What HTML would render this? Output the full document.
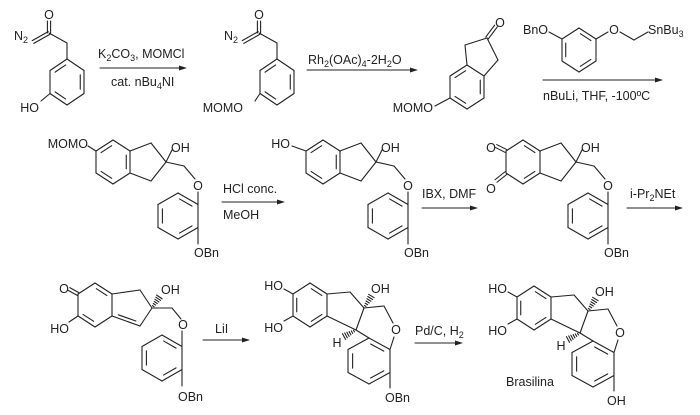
<!DOCTYPE html>
<html><head><meta charset="utf-8"><style>
html,body{margin:0;padding:0;background:#fff}
svg{display:block}
text{font-family:"Liberation Sans",Arial,sans-serif;font-size:12.5px;fill:#222}
</style></head><body>
<svg id="s" width="700" height="415" viewBox="0 0 700 415" xmlns="http://www.w3.org/2000/svg">
<rect width="700" height="415" fill="#fff"/>
<g id="g" stroke="#222" stroke-width="1.1" fill="none" stroke-linecap="round"></g>
<g id="t">
<text x="14" y="40">N<tspan dy="3" font-size="9">2</tspan></text>
<text x="49" y="19" text-anchor="middle">O</text>
<text x="39" y="112" text-anchor="end">HO</text>
<text x="98" y="58">K<tspan dy="3" font-size="9">2</tspan><tspan dy="-3">CO</tspan><tspan dy="3" font-size="9">3</tspan><tspan dy="-3">, MOMCl</tspan></text>
<text x="111" y="86">cat. nBu<tspan dy="3" font-size="9">4</tspan><tspan dy="-3">NI</tspan></text>
<text x="224" y="40">N<tspan dy="3" font-size="9">2</tspan></text>
<text x="259" y="19" text-anchor="middle">O</text>
<text x="243" y="112" text-anchor="end">MOMO</text>
<text x="308" y="64">Rh<tspan dy="3" font-size="9">2</tspan><tspan dy="-3">(OAc)</tspan><tspan dy="3" font-size="9">4</tspan><tspan dy="-3">-2H</tspan><tspan dy="3" font-size="9">2</tspan><tspan dy="-3">O</tspan></text>
<text x="500" y="27" text-anchor="middle">O</text>
<text x="433" y="112" text-anchor="end">MOMO</text>
<text x="523" y="34">BnO</text>
<text x="614" y="34" text-anchor="middle">O</text>
<text x="648" y="34">SnBu<tspan dy="3" font-size="9">3</tspan></text>
<text x="543" y="100">nBuLi, THF, -100ºC</text>
<text x="88" y="148" text-anchor="end">MOMO</text>
<text x="171" y="152">OH</text>
<text x="198" y="190" text-anchor="middle">O</text>
<text x="194" y="257">OBn</text>
<text x="223" y="193">HCl conc.</text>
<text x="223" y="219">MeOH</text>
<text x="290" y="148" text-anchor="end">HO</text>
<text x="381" y="152">OH</text>
<text x="408" y="190" text-anchor="middle">O</text>
<text x="404" y="257">OBn</text>
<text x="422" y="198">IBX, DMF</text>
<text x="491" y="152" text-anchor="middle">O</text>
<text x="491" y="193" text-anchor="middle">O</text>
<text x="581" y="152">OH</text>
<text x="608" y="190" text-anchor="middle">O</text>
<text x="604" y="257">OBn</text>
<text x="630" y="198">i-Pr<tspan dy="3" font-size="9">2</tspan><tspan dy="-3">NEt</tspan></text>
<text x="64" y="293" text-anchor="middle">O</text>
<text x="69" y="333" text-anchor="end">HO</text>
<text x="161" y="294">OH</text>
<text x="183" y="329" text-anchor="middle">O</text>
<text x="178" y="401">OBn</text>
<text x="215" y="333">LiI</text>
<text x="283" y="290" text-anchor="end">HO</text>
<text x="283" y="332" text-anchor="end">HO</text>
<text x="371" y="293">OH</text>
<text x="396" y="334" text-anchor="middle">O</text>
<text x="337" y="347" text-anchor="middle">H</text>
<text x="385" y="402">OBn</text>
<text x="415" y="335">Pd/C, H<tspan dy="3" font-size="9">2</tspan></text>
<text x="507" y="293" text-anchor="end">HO</text>
<text x="507" y="335" text-anchor="end">HO</text>
<text x="595" y="296">OH</text>
<text x="620" y="337" text-anchor="middle">O</text>
<text x="561" y="350" text-anchor="middle">H</text>
<text x="607" y="405">OH</text>
<text x="506" y="386" font-size="11">Brasilina</text>
</g>
</svg>
<script>
var G=document.getElementById('g'),NS='http://www.w3.org/2000/svg';
function L(a,b,c,d){var l=document.createElementNS(NS,'line');l.setAttribute('x1',a);l.setAttribute('y1',b);l.setAttribute('x2',c);l.setAttribute('y2',d);G.appendChild(l);}
function P(p,q){L(p[0],p[1],q[0],q[1]);}
function inner(p,q,c){var k=0.78;var a=[c[0]+(p[0]-c[0])*k,c[1]+(p[1]-c[1])*k],b=[c[0]+(q[0]-c[0])*k,c[1]+(q[1]-c[1])*k];var s=0.1;L(a[0]+(b[0]-a[0])*s,a[1]+(b[1]-a[1])*s,b[0]-(b[0]-a[0])*s,b[1]-(b[1]-a[1])*s);}
function R(cx,cy,hw,ry,d){var v=[[cx,cy-ry],[cx+hw,cy-ry/2],[cx+hw,cy+ry/2],[cx,cy+ry],[cx-hw,cy+ry/2],[cx-hw,cy-ry/2]];for(var i=0;i<6;i++)P(v[i],v[(i+1)%6]);(d||[]).forEach(function(i){inner(v[i],v[(i+1)%6],[cx,cy]);});return v;}
function D(a,b,c,d){var dx=c-a,dy=d-b,l=Math.hypot(dx,dy),nx=-dy/l*1.6,ny=dx/l*1.6;L(a+nx,b+ny,c+nx,d+ny);L(a-nx,b-ny,c-nx,d-ny);}
function H(a,b,c,d){var dx=c-a,dy=d-b,l=Math.hypot(dx,dy),nx=-dy/l,ny=dx/l;for(var i=1;i<=6;i++){var t=i/6.5,w=0.5+t*3;var x=a+dx*t,y=b+dy*t;L(x-nx*w,y-ny*w,x+nx*w,y+ny*w);}}
function A(x1,x2,y){L(x1,y,x2-6,y);var p=document.createElementNS(NS,'polygon');p.setAttribute('points',(x2)+','+y+' '+(x2-8)+','+(y-2.5)+' '+(x2-8)+','+(y+2.5));p.setAttribute('fill','#222');p.setAttribute('stroke','none');G.appendChild(p);}
[0,210].forEach(function(dx){R(67+dx,82,17,23,[1,3,5]);L(67+dx,59,67+dx,43);L(67+dx,43,49+dx,33);D(49+dx,33,49+dx,21);D(49+dx,33,33+dx,42);L(50+dx,93.5,dx?(45+dx):41,101);});
A(100,187,68);A(307,418,70);
R(467,87,17,22,[1,3,5]);P([467,65],[465,45]);L(465,45,487,38);L(487,38,498,60);P([498,60],[484,76]);D(487,38,496,26);L(450,98,435,106);
R(579,50,17,22,[0,2,4]);L(549,32,562,39);L(596,39,608,32);L(620,32,634,40);L(634,40,648,32);
A(543,663,80);
function M4(dx,q){R(113+dx,162,17,22,q?[0,2]:[1,3,5]);var f=[[130+dx,151],[151+dx,143],[166+dx,162],[151+dx,181],[130+dx,173]];for(var i=0;i<4;i++)P(f[i],f[i+1]);L(166+dx,162,172+dx,150);L(166+dx,162,184+dx,166);L(184+dx,166,195+dx,179);L(198+dx,192,198+dx,205);R(178+dx,216,20,23,[0,2,4]);L(198+dx,227.5,198+dx,244);}
M4(0);L(96,151,88,146);
M4(210);L(306,151,292,146);
M4(410,1);D(506,151,496,146);D(506,173,496,181);
A(222,285,202);A(422,478,208);A(627,683,208);
R(95,305,17,22,[0,3]);D(78,294,69,289);L(78,316,69,322);var f=[[112,294],[140,290],[152,308],[140,326],[112,316]];for(var i=0;i<4;i++)P(f[i],f[i+1]);inner(f[3],f[4],[131,307]);H(152,308,160,296);L(152,308,172,308);L(172,308,181,319);L(182,331,182,346);R(162,358,20,23,[0,2,4]);L(182,369.5,182,386);
A(203,250,340);
function M8(dx,dy){R(310+dx,305+dy,17,22,[0,2,4]);L(293+dx,294+dy,284+dx,289+dy);L(293+dx,316+dy,284+dx,321+dy);var f=[[327+dx,294+dy],[350+dx,292+dy],[364+dx,308+dy],[356+dx,330+dy],[327+dx,316+dy]];for(var i=0;i<4;i++)P(f[i],f[i+1]);H(364+dx,308+dy,372+dx,295+dy);H(356+dx,330+dy,343+dx,337+dy);L(364+dx,308+dy,384+dx,306+dy);L(384+dx,306+dy,393+dx,323+dy);R(369+dx,361+dy,21,23,[0,2,4]);L(356+dx,330+dy,369+dx,338+dy);L(390+dx,349.5+dy,394+dx,337+dy);L(390+dx,372.5+dy,390+dx,388+dy);}
M8(0,0);A(415,463,343);M8(224,3);
</script>
</body></html>
